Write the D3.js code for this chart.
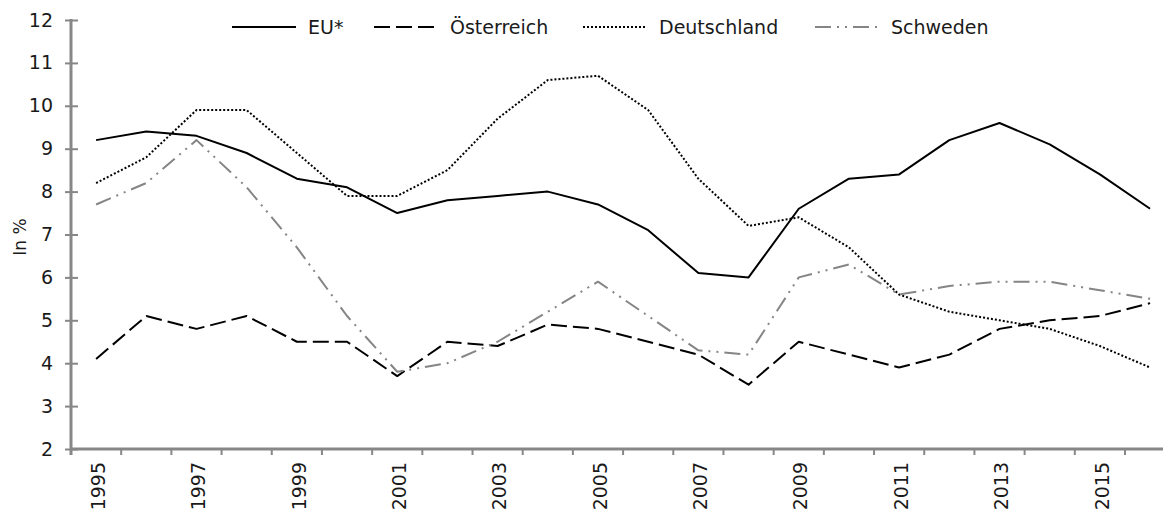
<!DOCTYPE html>
<html>
<head>
<meta charset="utf-8">
<script src="https://cdn.jsdelivr.net/npm/d3@7"></script>
<style>
  html, body { margin: 0; padding: 0; background: #fff; }
  svg { display: block; font-family: "DejaVu Sans", sans-serif; }
</style>
</head>
<body>
<svg id="chart" width="1163" height="511"></svg>
<script>
// ---- data ----
const years = [1995,1996,1997,1998,1999,2000,2001,2002,2003,2004,2005,2006,2007,2008,2009,2010,2011,2012,2013,2014,2015,2016];
const euValues = [9.2,9.4,9.3,8.9,8.3,8.1,7.5,7.8,7.9,8.0,7.7,7.1,6.1,6.0,7.6,8.3,8.4,9.2,9.6,9.1,8.4,7.6];
const atValues = [4.1,5.1,4.8,5.1,4.5,4.5,3.7,4.5,4.4,4.9,4.8,4.5,4.2,3.5,4.5,4.2,3.9,4.2,4.8,5.0,5.1,5.4];
const deValues = [8.2,8.8,9.9,9.9,8.9,7.9,7.9,8.5,9.7,10.6,10.7,9.9,8.3,7.2,7.4,6.7,5.6,5.2,5.0,4.8,4.4,3.9];
const seValues = [7.7,8.2,9.2,8.1,6.7,5.1,3.8,4.0,4.5,5.2,5.9,5.1,4.3,4.2,6.0,6.3,5.6,5.8,5.9,5.9,5.7,5.5];
const seriesNames = ["EU*", "Österreich", "Deutschland", "Schweden"];
const yTicks = [2,3,4,5,6,7,8,9,10,11,12];
const xLabelYears = [1995,1997,1999,2001,2003,2005,2007,2009,2011,2013,2015];
const yTitle = "In %";

// ---- styles ----
const styles = [
  { color: "#000000", dash: null, width: 2 },
  { color: "#000000", dash: "16,6", width: 2 },
  { color: "#000000", dash: "2,2", width: 2 },
  { color: "#858585", dash: "16,6,2,6,2,6", width: 2 }
];
const seriesValues = [euValues, atValues, deValues, seValues];

const svg = d3.select("#chart");
const axisColor = "#878787";

const plotLeft = 71, plotTop = 20, plotBottom = 449;
const step = 50.19;
const x = d3.scaleBand().domain(years).range([plotLeft, plotLeft + step * years.length]).padding(0);
const y = d3.scaleLinear().domain([2, 12]).range([plotBottom, plotTop]);
const cx = d => x(d) + x.bandwidth() / 2;

// y axis
const yAxis = d3.axisLeft(y).tickValues(yTicks).tickSize(6).tickPadding(12).tickFormat(d3.format("d"));
const gy = svg.append("g").attr("transform", `translate(${plotLeft},0)`).call(yAxis);
gy.select(".domain").remove();
gy.selectAll(".tick line").attr("x1", -6).attr("x2", 7).attr("stroke", axisColor).attr("stroke-width", 2);
gy.selectAll(".tick text").attr("font-size", 19).attr("fill", "#1a1a1a").attr("font-family", "DejaVu Sans");
svg.append("line").attr("x1", plotLeft).attr("x2", plotLeft).attr("y1", plotTop - 1).attr("y2", plotBottom + 6)
  .attr("stroke", axisColor).attr("stroke-width", 3);

// x axis
const boundaries = d3.range(years.length + 1).map(i => x.range()[0] + i * x.step());
svg.append("g").selectAll("line").data(boundaries).join("line")
  .attr("x1", d => d).attr("x2", d => d).attr("y1", plotBottom).attr("y2", plotBottom + 6)
  .attr("stroke", axisColor).attr("stroke-width", 2);
svg.append("line").attr("x1", plotLeft).attr("x2", x.range()[1]).attr("y1", plotBottom).attr("y2", plotBottom)
  .attr("stroke", axisColor).attr("stroke-width", 3);

const xAxis = d3.axisBottom(x).tickValues(xLabelYears).tickSize(0).tickPadding(0);
const gx = svg.append("g").attr("transform", `translate(0,${plotBottom})`).call(xAxis);
gx.select(".domain").remove();
gx.selectAll(".tick text")
  .attr("font-size", 19).attr("fill", "#1a1a1a").attr("font-family", "DejaVu Sans")
  .attr("transform", "rotate(-90)")
  .attr("text-anchor", "end")
  .attr("x", -13).attr("y", 0).attr("dy", "0.35em").attr("dx", 0);
gx.selectAll(".tick").attr("transform", d => `translate(${cx(d) + 2},0)`);

// y title
svg.append("text").attr("transform", `translate(26,237) rotate(-90)`)
  .attr("text-anchor", "middle").attr("font-size", 17).attr("fill", "#1a1a1a").text(yTitle);

// lines
const line = d3.line().x((d, i) => cx(years[i])).y(d => y(d));
seriesValues.forEach((vals, k) => {
  svg.append("path").datum(vals)
    .attr("d", line)
    .attr("fill", "none")
    .attr("stroke", styles[k].color)
    .attr("stroke-width", styles[k].width)
    .attr("stroke-dasharray", styles[k].dash)
    .attr("stroke-linejoin", "round");
});

// legend
const legendX = [232, 374, 583, 815];
const legendY = 27;
const legend = svg.append("g");
seriesNames.forEach((name, k) => {
  const g = legend.append("g").attr("transform", `translate(${legendX[k]},${legendY})`);
  g.append("line").attr("x1", 0).attr("x2", 64).attr("y1", 0).attr("y2", 0)
    .attr("stroke", styles[k].color).attr("stroke-width", styles[k].width)
    .attr("stroke-dasharray", styles[k].dash);
  g.append("text").attr("x", 76).attr("y", 0).attr("dy", "0.36em")
    .attr("font-size", 19).attr("fill", "#1a1a1a").text(name);
});
</script>
</body>
</html>
